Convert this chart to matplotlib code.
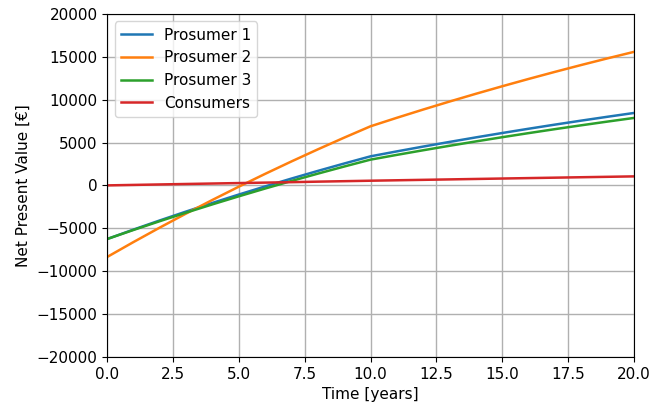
import numpy as np
import matplotlib.pyplot as plt

years = np.arange(0, 21)

# net present value per year [EUR]
prosumer_1 = [-6250, -5149, -4081, -3045, -2040, -1065, -120, 797, 1687, 2550, 3387,
              3964, 4524, 5067, 5594, 6105, 6601, 7082, 7548, 8000, 8439]
prosumer_2 = [-8340, -6600, -4912, -3275, -1687, -147, 1347, 2796, 4202, 5566, 6889,
              7880, 8841, 9773, 10677, 11554, 12405, 13230, 14031, 14808, 15561]
prosumer_3 = [-6250, -5193, -4168, -3173, -2208, -1272, -364, 516, 1370, 2198, 3002,
              3557, 4095, 4617, 5124, 5615, 6092, 6554, 7003, 7438, 7860]
consumers = [0, 55, 110, 164, 218, 271, 323, 375, 436, 490, 545,
             596, 647, 698, 749, 800, 850, 900, 950, 1000, 1050]

labels = ['Prosumer 1', 'Prosumer 2', 'Prosumer 3', 'Consumers']

fig = plt.figure(figsize=(6.5, 4.07), dpi=100)
ax = fig.add_axes([0.165, 0.123, 0.81, 0.843])

for series, lab in zip([prosumer_1, prosumer_2, prosumer_3, consumers], labels):
    ax.plot(years, series, label=lab, linewidth=1.8)

ax.set_xlim(0, 20)
ax.set_ylim(-20000, 20000)
ax.set_xticks(np.arange(0, 20.1, 2.5))
ax.set_yticks(np.arange(-20000, 20001, 5000))
ax.tick_params(labelsize=11)
ax.set_xlabel('Time [years]', fontsize=11)
ax.set_ylabel('Net Present Value [€]', fontsize=11)
ax.grid(True, color='#b0b0b0', linewidth=1.0)
ax.legend(loc='upper left', fontsize=11)

fig.savefig('out.png', dpi=100)
